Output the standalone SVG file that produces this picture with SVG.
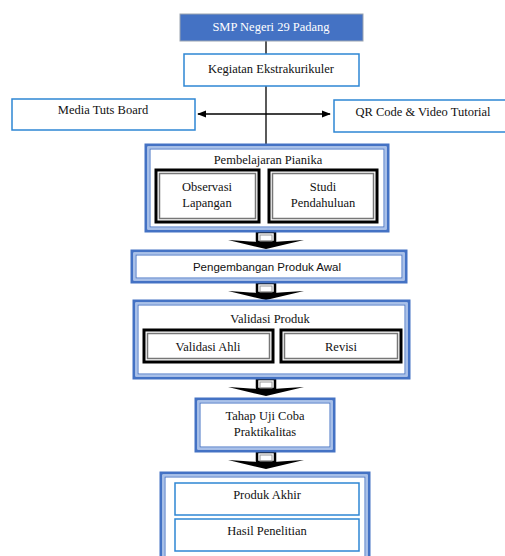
<svg xmlns="http://www.w3.org/2000/svg" width="505" height="556" viewBox="0 0 505 556">
<defs>
<style>
.t{font-family:"Liberation Serif",serif;font-size:12.5px;fill:#111;text-anchor:middle}
.s{font-family:"Liberation Sans",sans-serif;font-size:11.5px;fill:#111;text-anchor:middle}
.b1{fill:#fff;stroke:#2E86D4;stroke-width:1.5}
.d1{fill:#fff;stroke:#4472C4;stroke-width:3}
.d3{fill:none;stroke:#A9C1EA;stroke-width:2}
.d2{fill:none;stroke:#4472C4;stroke-width:1}
.k1{fill:#fff;stroke:#000;stroke-width:3}
.k2{fill:none;stroke:#777;stroke-width:1.5}
.ln{stroke:#000;stroke-width:1.3;fill:none}
</style>
<marker id="ah" viewBox="0 0 10 10" refX="9" refY="5" markerWidth="7" markerHeight="7" orient="auto-start-reverse">
<path d="M0,1 L10,5 L0,9 z" fill="#000"/>
</marker>
<g id="blk">
<rect x="-9" y="0" width="18" height="10" fill="#fff" stroke="#000" stroke-width="2.5"/>
<rect x="-6" y="3" width="12" height="6" fill="none" stroke="#999" stroke-width="1"/>
<path d="M-38,8 Q-20,9 -8,10 L8,10 Q20,9 38,8 L0,17 z" fill="#000"/>
</g>
</defs>

<g id="connectors">
<line class="ln" x1="266" y1="41" x2="266" y2="144"/>
<line class="ln" x1="198" y1="114" x2="330" y2="114" marker-start="url(#ah)" marker-end="url(#ah)"/>
<use href="#blk" x="266" y="232"/>
<use href="#blk" x="266" y="283"/>
<use href="#blk" x="266" y="379"/>
<use href="#blk" x="266" y="452"/>
</g>

<g id="smp">
<rect x="180" y="14" width="183" height="27" fill="#4472C4" stroke="#9AA3B0" stroke-width="1"/>
<text class="t" x="271" y="31" style="fill:#fff">SMP Negeri 29 Padang</text>
</g>

<g id="kegiatan">
<rect class="b1" x="184" y="54" width="175" height="32"/>
<text class="t" x="271" y="73">Kegiatan Ekstrakurikuler</text>
</g>

<g id="media">
<rect class="b1" x="12" y="99" width="183" height="31"/>
<text class="t" x="103" y="114">Media Tuts Board</text>
</g>

<g id="qr">
<rect class="b1" x="334" y="100" width="174" height="32"/>
<text class="t" x="423" y="116">QR Code &amp; Video Tutorial</text>
</g>

<g id="pembelajaran">
<rect class="d1" x="146" y="145" width="242" height="86"/>
<rect class="d3" x="148.5" y="147.5" width="237" height="81"/>
<rect class="d2" x="150" y="149" width="234" height="78"/>
<text class="t" x="268" y="164">Pembelajaran Pianika</text>
</g>

<g id="observasi">
<rect class="k1" x="156" y="170" width="103" height="52"/>
<rect class="k2" x="159.5" y="173.5" width="96" height="45"/>
<text class="t" x="207" y="191">Observasi</text>
<text class="t" x="207" y="207">Lapangan</text>
</g>

<g id="studi">
<rect class="k1" x="269" y="170" width="108" height="52"/>
<rect class="k2" x="272.5" y="173.5" width="101" height="45"/>
<text class="t" x="323" y="191">Studi</text>
<text class="t" x="323" y="207">Pendahuluan</text>
</g>

<g id="pengembangan">
<rect class="d1" x="132" y="251" width="274" height="31"/>
<rect class="d3" x="134.5" y="253.5" width="269" height="26"/>
<rect class="d2" x="136" y="255" width="266" height="23"/>
<text class="s" x="267" y="271">Pengembangan Produk Awal</text>
</g>

<g id="validasi">
<rect class="d1" x="134" y="301" width="275" height="77"/>
<rect class="d3" x="136.5" y="303.5" width="270" height="72"/>
<rect class="d2" x="138" y="305" width="267" height="69"/>
<text class="t" x="270" y="323">Validasi Produk</text>
</g>

<g id="ahli">
<rect class="k1" x="144" y="330" width="129" height="32"/>
<rect class="k2" x="147.5" y="333.5" width="122" height="25"/>
<text class="t" x="208" y="351">Validasi Ahli</text>
</g>

<g id="revisi">
<rect class="k1" x="281" y="330" width="120" height="32"/>
<rect class="k2" x="284.5" y="333.5" width="113" height="25"/>
<text class="t" x="341" y="351">Revisi</text>
</g>

<g id="tahap">
<rect class="d1" x="196" y="399" width="138" height="52"/>
<rect class="d3" x="198.5" y="401.5" width="133" height="47"/>
<rect class="d2" x="200" y="403" width="130" height="44"/>
<text class="t" x="265" y="420">Tahap Uji Coba</text>
<text class="t" x="265" y="436">Praktikalitas</text>
</g>

<g id="akhir">
<rect class="d1" x="161" y="473" width="208" height="90"/>
<rect class="d3" x="163.5" y="475.5" width="203" height="90"/>
<rect class="d2" x="165" y="477" width="200" height="90"/>
</g>

<g id="produk">
<rect class="b1" x="175" y="483" width="184" height="32"/>
<text class="t" x="267" y="499">Produk Akhir</text>
</g>

<g id="hasil">
<rect class="b1" x="175" y="519" width="184" height="32"/>
<text class="t" x="267" y="535">Hasil Penelitian</text>
</g>
</svg>
